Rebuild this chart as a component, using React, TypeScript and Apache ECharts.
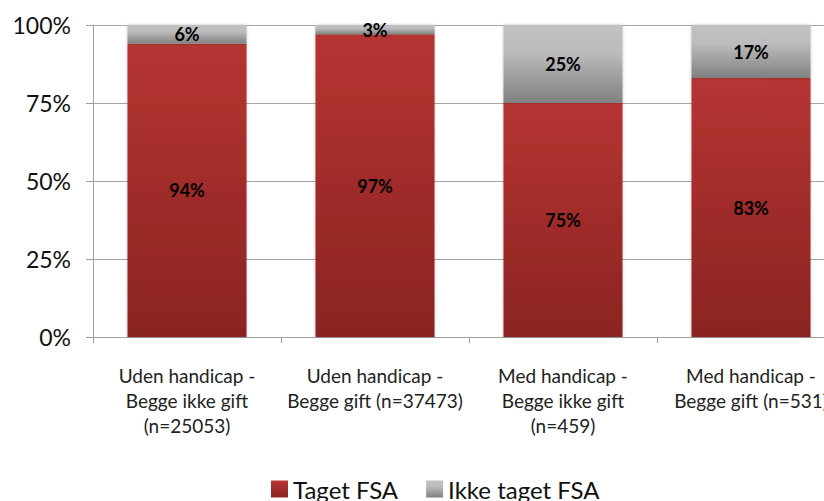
import React, { useEffect, useRef } from "react";
import * as echarts from "echarts";

const categories = [
  "Uden handicap -\nBegge ikke gift\n(n=25053)",
  "Uden handicap -\nBegge gift (n=37473)",
  "Med handicap -\nBegge ikke gift\n(n=459)",
  "Med handicap -\nBegge gift (n=531)",
];
const tagetFSA = [0.94, 0.97, 0.75, 0.83];
const ikkeTagetFSA = [0.06, 0.03, 0.25, 0.17];
const seriesNames = ["Taget FSA", "Ikke taget FSA"];

const FONT = "Lato, 'Open Sans', sans-serif";

export default function App() {
  const ref = useRef<HTMLDivElement>(null);
  useEffect(() => {
    if (!ref.current) return;
    const chart = echarts.init(ref.current, null, { renderer: "svg" });
    const redGrad = new echarts.graphic.LinearGradient(0, 0, 0, 1, [
      { offset: 0, color: "#b63432" },
      { offset: 1, color: "#8a2422" },
    ]);
    const grayGrad = new echarts.graphic.LinearGradient(0, 0, 0, 1, [
      { offset: 0, color: "#c2c2c2" },
      { offset: 0.35, color: "#bcbcbc" },
      { offset: 1, color: "#808080" },
    ]);
    const label = {
      show: true,
      position: "inside",
      color: "#000",
      fontWeight: "bold",
      fontSize: 18,
      fontFamily: FONT,
      formatter: (p: any) => Math.round(p.value * 100) + "%",
    };
    chart.setOption({
      animation: false,
      backgroundColor: "#fff",
      grid: {
        left: 93,
        top: 25,
        right: -21,
        bottom: 164,
        containLabel: false,
        outerBoundsMode: "none",
      },
      xAxis: {
        type: "category",
        data: categories,
        axisLine: { show: true, lineStyle: { color: "#a0a0a0", width: 1 } },
        axisTick: { show: true, length: 6, lineStyle: { color: "#a0a0a0" } },
        axisLabel: {
          color: "#222",
          fontSize: 19,
          fontFamily: FONT,
          lineHeight: 25,
          margin: 26,
          interval: 0,
          align: "center",
        },
      },
      yAxis: {
        type: "value",
        min: 0,
        max: 1,
        interval: 0.25,
        axisLine: { show: true, lineStyle: { color: "#a0a0a0", width: 1 } },
        axisTick: { show: true, length: 7, lineStyle: { color: "#a0a0a0" } },
        splitLine: { show: true, lineStyle: { color: "#a6a6a6", width: 1 } },
        axisLabel: {
          color: "#111",
          fontSize: 23,
          fontFamily: FONT,
          margin: 22,
          formatter: (v: number) => Math.round(v * 100) + "%",
        },
      },
      legend: {
        left: 266,
        top: 472,
        itemWidth: 17,
        itemHeight: 17,
        itemGap: 28,
        icon: "rect",
        textStyle: { fontSize: 24, fontFamily: FONT, color: "#111", padding: [0, 0, 0, 0] },
        data: seriesNames,
      },
      series: [
        {
          name: seriesNames[0],
          type: "bar",
          stack: "total",
          barWidth: 119,
          data: tagetFSA,
          itemStyle: {
            color: redGrad,
            shadowBlur: 3,
            shadowColor: "rgba(0,0,0,0.25)",
          },
          label,
        },
        {
          name: seriesNames[1],
          type: "bar",
          stack: "total",
          barWidth: 119,
          data: ikkeTagetFSA,
          itemStyle: {
            color: grayGrad,
            shadowBlur: 3,
            shadowColor: "rgba(0,0,0,0.25)",
          },
          label,
        },
      ],
    });
    return () => chart.dispose();
  }, []);
  return (
    <div
      ref={ref}
      style={{
        position: "absolute",
        left: 0,
        top: 0,
        width: 824,
        height: 501,
        overflow: "hidden",
      }}
    />
  );
}
